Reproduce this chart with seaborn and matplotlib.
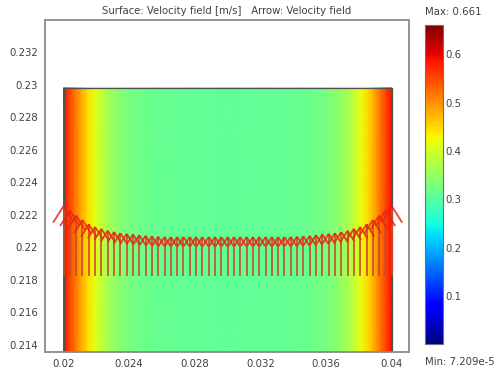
import numpy as np
import matplotlib
matplotlib.use("Agg")
import matplotlib.pyplot as plt
from matplotlib.collections import LineCollection
from matplotlib.colors import Normalize
import seaborn as sns

sns.set_theme(style="white")
plt.rcParams["font.family"] = ["DejaVu Sans"]

# Surface: velocity magnitude across the channel width [m/s]
profile_x = [0.0200, 0.0203, 0.0207, 0.0211, 0.0215, 0.0219, 0.0223, 0.0228,
             0.0234, 0.0242, 0.0255, 0.0275, 0.0300,
             0.0325, 0.0345, 0.0358, 0.0366, 0.0372, 0.0377, 0.0381,
             0.0385, 0.0389, 0.0393, 0.0397, 0.0400]
profile_v = [0.590, 0.560, 0.520, 0.480, 0.445, 0.415, 0.385, 0.360,
             0.340, 0.325, 0.315, 0.310, 0.308,
             0.310, 0.315, 0.325, 0.340, 0.360, 0.385, 0.415,
             0.445, 0.480, 0.520, 0.560, 0.590]

# Arrow: velocity magnitude at the arrow row [m/s]
arrow_speed = [0.555, 0.52, 0.48, 0.445, 0.41, 0.39, 0.375, 0.36, 0.35, 0.34,
               0.335, 0.33, 0.325, 0.32, 0.316, 0.313, 0.311,
               0.31, 0.31, 0.31, 0.31, 0.31, 0.31, 0.31, 0.31, 0.31, 0.31,
               0.31, 0.31, 0.31, 0.31, 0.31, 0.31, 0.31, 0.31, 0.31,
               0.311, 0.313, 0.316, 0.32, 0.325, 0.33, 0.335, 0.34, 0.35, 0.36,
               0.375, 0.39, 0.41, 0.445, 0.48, 0.52, 0.555]

x_ticks = [0.02, 0.024, 0.028, 0.032, 0.036, 0.04]
x_tick_labels = ["0.02", "0.024", "0.028", "0.032", "0.036", "0.04"]
y_ticks = [0.214, 0.216, 0.218, 0.22, 0.222, 0.224, 0.226, 0.228, 0.23, 0.232]
y_tick_labels = ["0.214", "0.216", "0.218", "0.22", "0.222", "0.224", "0.226",
                 "0.228", "0.23", "0.232"]
cbar_ticks = [0.1, 0.2, 0.3, 0.4, 0.5, 0.6]
v_min, v_max = 7.209e-5, 0.661

# geometry of the channel section and the arrow row
dom_x0, dom_x1 = 0.02, 0.04
dom_y0, dom_y1 = 0.2120, 0.2298
arrow_base = 0.21824
arrow_scale = 0.00774          # length per m/s
text_color = "#404040"
fs = 7.3

cmap = matplotlib.colormaps["jet"]
norm = Normalize(v_min, v_max)

fig = plt.figure(figsize=(4.99, 3.74), dpi=100)
ax = fig.add_axes([45 / 499, 22 / 374, 363.5 / 499, 332 / 374])

# surface plot
px = np.asarray(profile_x)
pv = np.asarray(profile_v)
X, Y = np.meshgrid(px, [dom_y0, dom_y1])
C = np.vstack([pv, pv])
ax.pcolormesh(X, Y, C, cmap=cmap, norm=norm, shading="gouraud", zorder=1)
ax.plot([dom_x0, dom_x0, dom_x1, dom_x1], [dom_y0, dom_y1, dom_y1, dom_y0],
        color="#505050", lw=0.9, zorder=2)

# arrows
spd = np.asarray(arrow_speed)
ax_x = np.linspace(dom_x0, dom_x1, len(spd))
L = spd * arrow_scale
tip = arrow_base + L
arm = 0.28 * L
ang = np.deg2rad(32)
dx, dy = arm * np.sin(ang), arm * np.cos(ang)
shafts = [[(x, arrow_base), (x, t)] for x, t in zip(ax_x, tip)]
heads = []
for x, t, a, b in zip(ax_x, tip, dx, dy):
    heads.append([(x - a, t - b), (x, t)])
    heads.append([(x + a, t - b), (x, t)])
ax.add_collection(LineCollection(shafts, colors="#cc4a28", linewidths=1.4,
                                 alpha=0.85, zorder=3))
ax.add_collection(LineCollection(heads, colors="#ee2210", linewidths=1.3,
                                 alpha=0.85, zorder=4))

ax.set_xlim(0.01887, 0.04102)
ax.set_ylim(0.21357, 0.23397)
ax.set_xticks(x_ticks)
ax.set_xticklabels(x_tick_labels)
ax.set_yticks(y_ticks)
ax.set_yticklabels(y_tick_labels)
ax.tick_params(length=0, pad=5, labelsize=fs, labelcolor=text_color)
for s in ax.spines.values():
    s.set_color("#8a8a8a")
    s.set_linewidth(1.3)
ax.grid(False)

fig.text(227 / 499, 1 - 11 / 374,
         "Surface: Velocity field [m/s]   Arrow: Velocity field",
         ha="center", va="center", fontsize=fs, color=text_color)

# colour bar
cax = fig.add_axes([425 / 499, 30 / 374, 18 / 499, 319 / 374])
sm = plt.cm.ScalarMappable(norm=norm, cmap=cmap)
cb = fig.colorbar(sm, cax=cax, ticks=cbar_ticks)
cb.ax.set_yticklabels([f"{t:g}" for t in cbar_ticks])
cax.tick_params(axis="y", left=True, right=True, direction="in", length=3,
                width=1, color="#202020", pad=2, labelsize=fs,
                labelcolor=text_color)
cb.outline.set_edgecolor("#707070")
cb.outline.set_linewidth(0.8)
fig.text(425 / 499, 1 - 12 / 374, "Max: 0.661", ha="left", va="center",
         fontsize=fs, color=text_color)
fig.text(425 / 499, 1 - 362 / 374, "Min: 7.209e-5", ha="left", va="center",
         fontsize=fs, color=text_color)

fig.savefig("out.png", dpi=100)
